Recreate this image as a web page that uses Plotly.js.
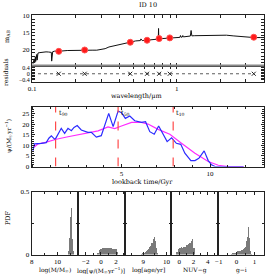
<!DOCTYPE html>
<html><head><meta charset="utf-8">
<script src="https://cdn.plot.ly/plotly-3.0.1.min.js"></script>
<style>html,body{margin:0;padding:0;background:#fff}#c{width:266px;height:274px}</style>
</head><body><div id="c"></div>
<script>
// ---------- DATA ----------
// photometric bands (FUV, NUV, g, r, i, z, W1)
const bandWave = [0.153, 0.231, 0.477, 0.623, 0.755, 0.894, 3.4];
const bandMag  = [20.6, 20.2, 17.9, 17.3, 16.8, 16.6, 16.4];
const bandResid = [0, 0, 0, 0, 0, 0, 0];
// best-fit model spectrum
const modelWave = [0.1015,0.1025,0.1035,0.1045,0.105,0.1055,0.106,0.107,0.108,0.1085,0.109,0.110,0.112,0.115,0.118,0.121,0.125,0.130,0.134,0.1360,0.1367,0.1375,0.139,0.143,0.150,0.160,0.175,0.20,0.23,0.26,0.28,0.30,0.32,0.34,0.37,0.39,0.42,0.45,0.48,0.52,0.56,0.565,0.571,0.577,0.60,0.63,0.66,0.70,0.745,0.748,0.751,0.754,0.76,0.80,0.85,0.90,0.96,1.02,1.05,1.06,1.07,1.09,1.10,1.11,1.15,1.20,1.24,1.255,1.27,1.32,1.45,1.6,1.8,2.0,2.2,2.45,2.7,3.0,3.4,3.8,4.0];
const modelMag  = [24.3,23.4,22.9,23.9,22.6,22.2,23.6,21.8,21.5,23.2,21.3,21.1,21.0,20.9,20.8,20.75,20.75,20.8,20.8,20.9,23.5,20.9,20.7,20.55,20.6,20.5,20.35,20.25,20.2,20.25,20.25,20.1,19.8,19.3,18.9,18.6,18.3,18.0,17.85,17.5,17.4,16.9,17.35,17.4,17.35,17.25,17.2,17.1,16.95,13.8,16.95,16.9,16.85,16.8,16.7,16.6,16.55,16.45,16.45,15.9,16.4,16.35,15.9,16.3,16.2,16.1,16.05,14.4,16.0,15.95,15.9,15.85,15.8,15.75,15.8,16.0,16.2,16.4,16.5,16.5,16.5];
// star formation history
const sfhTime = [0,0.09,0.47,0.75,0.9,1.04,1.22,1.28,1.6,1.79,1.98,2.17,2.32,2.5,2.73,3.1,3.3,3.58,3.86,4.28,4.53,4.81,5.0,5.22,5.47,5.75,6.13,6.36,6.6,6.85,7.1,7.35,7.58,7.83,8.1,8.35,8.58,8.92,9.15,9.37,9.67,9.9,10.09,10.28,11.9];
const sfhBlue = [7.5,10.7,11.0,11.3,13.4,14.5,13.0,13.2,18.1,15.7,18.1,17.0,18.5,19.4,17.3,16.2,16.2,13.9,14.6,25.2,18.9,26.3,25.5,22.8,23.9,21.7,20.9,21.2,16.5,15.3,19.2,15.7,11.8,13.6,11.0,10.5,6.3,2.8,2.8,3.9,7.4,2.8,0.8,0.0,0.0];
const smoothTime = [0,0.28,0.66,1.32,1.98,2.92,3.68,4.24,4.62,5.0,5.57,6.13,6.5,7.07,7.73,8.39,9.15,9.9,10.47,11.0,11.9];
const smoothSfr  = [8.7,10.7,11.3,12.9,14.1,15.7,16.9,18.8,18.0,19.2,20.9,20.9,20.1,17.6,15.3,11.0,6.3,2.4,0.6,0.0,0.0];
const tMarks = [1.28, 4.81, 7.92];
const tNames = ['t<sub>90</sub>', 't<sub>50</sub>', 't<sub>10</sub>'];
// PDFs
const massBins = [10.825,10.875,10.925,10.975,11.025,11.075,11.125,11.175,11.225];
const massPdf  = [0.03,0.12,0.13,0.14,0.30,0.37,0.14,0.12,0.03];
const sfrBins = [-0.4,-0.2,0,0.2,0.4,0.6,0.8,1.0,1.2,1.4,1.6,1.8,2.0,2.2];
const sfrPdf  = [0.015,0.035,0.045,0.05,0.055,0.05,0.055,0.055,0.05,0.05,0.045,0.045,0.04,0.02];
const ageBins = [8.925,8.975,9.025,9.075,9.125,9.175,9.225,9.275,9.325,9.375,9.425,9.475,9.525,9.575,9.625];
const agePdf  = [0.005,0.01,0.015,0.02,0.025,0.035,0.045,0.06,0.07,0.09,0.12,0.14,0.11,0.05,0.01];
const nuvgBins = [-0.3,-0.1,0.1,0.3,0.5,0.7,0.9,1.1,1.3,1.5,1.7,1.9,2.1];
const nuvgPdf  = [0.02,0.04,0.055,0.06,0.055,0.06,0.06,0.075,0.08,0.09,0.11,0.125,0.05];
const giBins = [-0.275,-0.225,-0.175,-0.125,-0.075,-0.025,0.025,0.075,0.125,0.175,0.225,0.275,0.325,0.375,0.425,0.475,0.525,0.575,0.625,0.675,0.725,0.775,0.825];
const giPdf  = [0.005,0.01,0.01,0.015,0.015,0.02,0.02,0.025,0.025,0.03,0.03,0.035,0.035,0.04,0.05,0.06,0.08,0.11,0.14,0.22,0.13,0.03,0.005];
const histTitles = ['log(M/M<sub>☉</sub>)','log[ψ/(M<sub>☉</sub>yr<sup>−1</sup>)]','log[age/yr]','NUV−g','g−i'];
const histTickVals = [[8,10],[-2,0,2],[9,10],[0,2,4],[-1,0,1]];
const histTickText = [['8','10'],['−2','0','2'],['9','10'],['0','2','4'],['−1','0','1']];

// ---------- LAYOUT ----------
const W=266,H=274;
const px=v=>v/W, py=v=>1-v/H;
const FONT='Liberation Serif';
const TFONT='DejaVu Serif';
const LC='#222';
const frame=(o)=>Object.assign({showline:true,mirror:'allticks',linecolor:LC,linewidth:1,ticks:'inside',ticklen:3,tickcolor:LC,tickwidth:1,tickfont:{size:7,family:FONT,color:'#000'},zeroline:false,showgrid:false,fixedrange:true},o);
const mn=(d,t0)=>({ticks:'inside',ticklen:2,dtick:d,tick0:t0||0,tickcolor:LC,showgrid:false});

const logMinor=[0.2,0.3,0.4,0.5,0.6,0.7,0.8,0.9,2,3,4];
const logRange=[-1,Math.log10(4)];

const traces=[];
traces.push({x:modelWave,y:modelMag,xaxis:'x',yaxis:'y',mode:'lines',line:{color:'#111',width:1},hoverinfo:'skip'});
traces.push({x:bandWave,y:bandMag,xaxis:'x',yaxis:'y',mode:'markers',marker:{color:'#ff1a1a',size:6,symbol:'circle',line:{color:'#ff5050',width:1}}});
traces.push({x:[0.1,bandWave[bandWave.length-1]],y:[0,0],xaxis:'x2',yaxis:'y2',mode:'lines',line:{color:'#333',width:0.8,dash:'dot'}});
traces.push({x:bandWave,y:bandResid,xaxis:'x2',yaxis:'y2',mode:'markers',marker:{color:'#222',size:4,symbol:'x-thin',line:{color:'#222',width:1}}});
// invisible traces on overlay axes (unlabeled log ticks)
traces.push({x:[0.1],y:[20],xaxis:'x9',yaxis:'y',mode:'markers',marker:{opacity:0},hoverinfo:'skip'});
traces.push({x:[0.1],y:[0],xaxis:'x10',yaxis:'y2',mode:'markers',marker:{opacity:0},hoverinfo:'skip'});
traces.push({x:smoothTime,y:smoothSfr,xaxis:'x3',yaxis:'y3',mode:'lines',line:{color:'#ff2bff',width:1.2}});
traces.push({x:sfhTime,y:sfhBlue,xaxis:'x3',yaxis:'y3',mode:'lines',line:{color:'#2b2bff',width:1.2}});
tMarks.forEach(t=>traces.push({x:[t,t],y:[0,28.2],xaxis:'x3',yaxis:'y3',mode:'lines',line:{color:'#ff4a4a',width:1.2,dash:'dash'}}));
const hb=[[massBins,massPdf,0.05],[sfrBins,sfrPdf,0.2],[ageBins,agePdf,0.05],[nuvgBins,nuvgPdf,0.2],[giBins,giPdf,0.05]];
hb.forEach((h,i)=>traces.push({type:'bar',x:h[0],y:h[1],width:h[2],xaxis:'x'+(i+4),yaxis:'y'+(i+4),marker:{color:'#7a7a7a',line:{width:0}}}));

const layout={width:W,height:H,margin:{l:0,r:0,t:0,b:0},paper_bgcolor:'#fff',plot_bgcolor:'#fff',showlegend:false,
  font:{family:FONT,size:7,color:'#000'},
  title:{text:'ID 10',x:px(148),y:py(5),xanchor:'center',yanchor:'middle',font:{size:6.5,family:TFONT}},
  xaxis:frame({type:'log',range:logRange,domain:[px(32),px(264)],anchor:'y',tickvals:[0.1,1],showticklabels:false}),
  xaxis9:frame({type:'log',range:logRange,overlaying:'x',anchor:'y',tickvals:logMinor,showticklabels:false,showline:false}),
  yaxis:frame({range:[24.8,9.8],domain:[py(65.5),py(15)],anchor:'x',tickvals:[10,15,20],ticktext:['10','15','20'],minor:mn(1)}),
  xaxis2:frame({type:'log',range:logRange,domain:[px(32),px(264)],anchor:'y2',tickvals:[0.1,1],ticktext:['0.1','1']}),
  xaxis10:frame({type:'log',range:logRange,overlaying:'x2',anchor:'y2',tickvals:logMinor,showticklabels:false,showline:false}),
  yaxis2:frame({range:[-0.55,0.55],domain:[py(82),py(65.5)],anchor:'x2',tickvals:[-0.4,0,0.4],ticktext:['−0.4','0','0.4'],tickfont:{size:6,family:FONT},minor:mn(0.1)}),
  xaxis3:frame({range:[-0.07,13.05],domain:[px(31.7),px(264)],anchor:'y3',tickvals:[5,10],ticktext:['5','10'],minor:mn(1)}),
  yaxis3:frame({range:[0,28.2],domain:[py(166.5),py(107)],anchor:'x3',dtick:5,minor:mn(1)}),
  annotations:[],shapes:[],bargap:0
};
const hx=[[8,11.6],[-3,3.15],[8.2,10.2],[-1.1,5.4],[-1.05,1.55]];
const hMinor=[1,1,0.5,1,0.5];
const x0=31.7, pw=(264.3-31.7)/5;
for(let i=0;i<5;i++){
  const n=i+4;
  layout['xaxis'+n]=frame({range:hx[i],domain:[px(x0+i*pw),px(x0+(i+1)*pw)],anchor:'y'+n,tickvals:histTickVals[i],ticktext:histTickText[i],minor:mn(hMinor[i])});
  const yo={range:[0,0.5],domain:[py(254.5),py(191.5)],anchor:'x'+n,minor:mn(0.25)};
  if(i===0){yo.tickvals=[0,0.5];yo.ticktext=['0','0.5'];}
  else{yo.tickvals=[0,0.5];yo.showticklabels=false;}
  layout['yaxis'+n]=frame(yo);
  layout.annotations.push({text:histTitles[i],x:px(x0+(i+0.5)*pw),y:py(270),xref:'paper',yref:'paper',showarrow:false,xanchor:'center',yanchor:'middle',font:{size:6,family:TFONT}});
}
// separator between magnitude and residual panel
layout.shapes.push({type:'line',xref:'paper',yref:'paper',x0:px(32),x1:px(264),y0:py(65.5),y1:py(65.5),line:{color:'#888',width:2}});
const ann=(t,x,y,o)=>layout.annotations.push(Object.assign({text:t,x:px(x),y:py(y),xref:'paper',yref:'paper',showarrow:false,xanchor:'center',yanchor:'middle',font:{size:6.5,family:TFONT}},o||{}));
ann('m<sub>AB</sub>',7,37,{textangle:-90});
ann('residuals',5,72,{textangle:-90,font:{size:6,family:TFONT}});
ann('wavelength/µm',136,96);
ann('ψ/(M<sub>☉</sub>yr<sup>−1</sup>)',8,136,{textangle:-90,font:{size:6,family:TFONT}});
ann('lookback time/Gyr',142,182);
ann('PDF',8,218,{textangle:-90});
tMarks.forEach((t,i)=>layout.annotations.push({text:tNames[i],x:t,y:25.5,xref:'x3',yref:'y3',showarrow:false,xanchor:'left',yanchor:'middle',xshift:1,font:{size:6.5,family:TFONT}}));

Plotly.newPlot('c',traces,layout,{staticPlot:true,displayModeBar:false});
</script></body></html>
